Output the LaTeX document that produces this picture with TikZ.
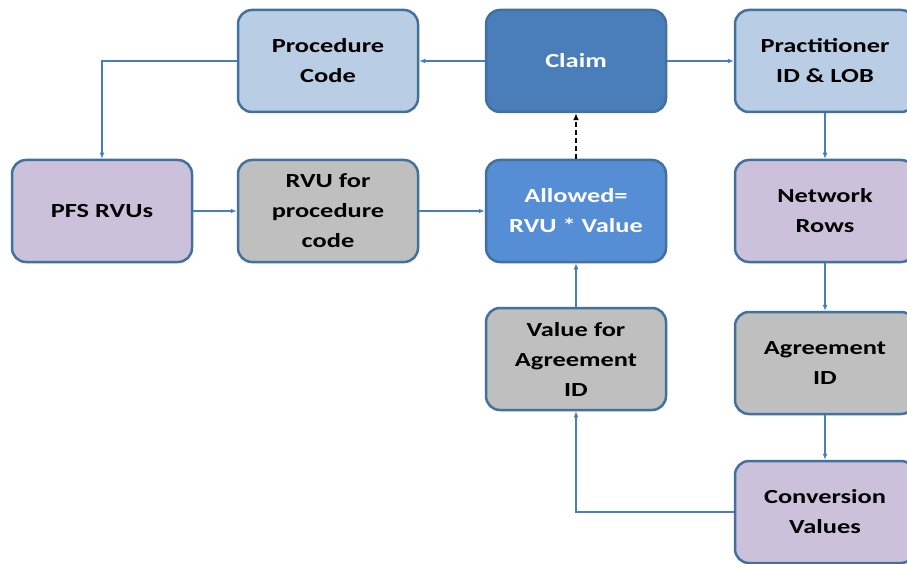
\documentclass[tikz,border=0pt]{standalone}
\usepackage{fontspec}
\usepackage{tikz}
\usetikzlibrary{arrows.meta}
\newfontfamily\boxfont[FakeStretch=1.32]{Carlito}
\definecolor{edge-blue}{HTML}{41719C}
\definecolor{line-blue}{HTML}{4A7EBB}
\definecolor{pale-blue}{HTML}{B9CDE5}
\definecolor{claim-blue}{HTML}{4A7EBB}
\definecolor{bright-blue}{HTML}{558ED5}
\definecolor{pale-purple}{HTML}{CCC1DA}
\definecolor{pale-gray}{HTML}{BFBFBF}
\tikzset{
    flow-box/.style = {draw=edge-blue, line width=2.5pt, rectangle, rounded corners=14pt, minimum width=180pt, minimum height=102pt, inner sep=2pt, align=center, font=\boxfont\bfseries\fontsize{20}{30}\selectfont},
    blue-box/.style = {flow-box, fill=pale-blue},
    claim-box/.style = {flow-box, fill=claim-blue, text=white},
    allowed-box/.style = {flow-box, fill=bright-blue, text=white},
    purple-box/.style = {flow-box, fill=pale-purple},
    gray-box/.style = {flow-box, fill=pale-gray},
    flow-arrow/.style = {draw=line-blue, line width=1.5pt, -{Latex[length=6pt,width=5pt]}},
    dash-arrow/.style = {draw=black, line width=1.6pt, dash pattern=on 5pt off 3pt, -{Latex[length=7pt,width=6pt]}},
}
\begin{document}
\begin{tikzpicture}[x=1pt,y=-1pt]
\clip (0,0) rectangle (907,564);
\fill[white] (0,0) rectangle (907,564);
% top row
\node [blue-box] (proc) at (328,61) {Procedure\\Code};
\node [claim-box] (claim) at (576,61) {Claim};
\node [blue-box] (prac) at (825,61) {Practitioner\\ID \& LOB};
% middle row
\node [purple-box] (pfs) at (102,211) {PFS RVUs};
\node [gray-box] (rvu) at (328,211) {RVU for\\procedure\\code};
\node [allowed-box] (allowed) at (576,211) {Allowed=\\RVU * Value};
\node [purple-box] (netrows) at (825,211) {Network\\Rows};
% lower rows
\node [gray-box] (valagr) at (576,359) {Value for\\Agreement\\ID};
\node [gray-box] (agrid) at (825,363) {Agreement\\ID};
\node [purple-box] (conv) at (825,512) {Conversion\\Values};

\draw[flow-arrow] (claim) -- (proc);
\draw[flow-arrow] (claim) -- (prac);
\draw[flow-arrow] (proc.west) -| (pfs.north);
\draw[flow-arrow] (pfs) -- (rvu);
\draw[flow-arrow] (rvu) -- (allowed);
\draw[dash-arrow] (allowed) -- (claim);
\draw[flow-arrow] (valagr) -- (allowed);
\draw[flow-arrow] (prac) -- (netrows);
\draw[flow-arrow] (netrows) -- (agrid);
\draw[flow-arrow] (agrid) -- (conv);
\draw[flow-arrow] (conv.west) -| (valagr.south);
\end{tikzpicture}
\end{document}
